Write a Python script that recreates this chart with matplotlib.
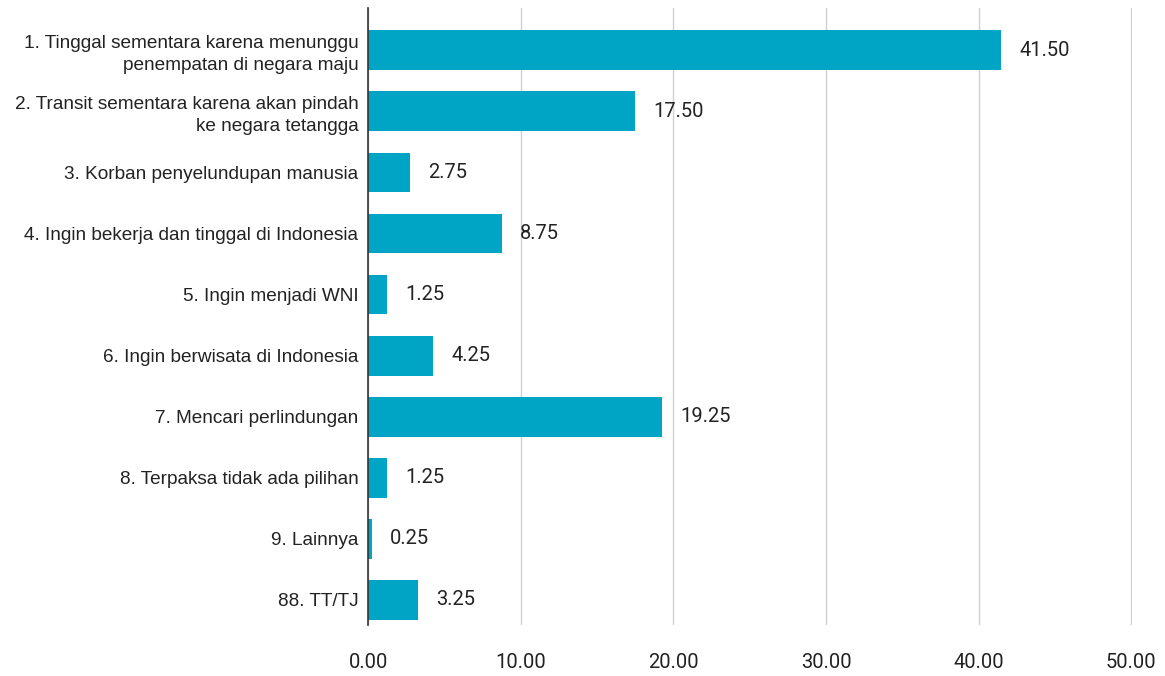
import matplotlib
matplotlib.use("Agg")
from matplotlib import pyplot as plt

categories = [
    "1. Tinggal sementara karena menunggu\npenempatan di negara maju",
    "2. Transit sementara karena akan pindah\nke negara tetangga",
    "3. Korban penyelundupan manusia",
    "4. Ingin bekerja dan tinggal di Indonesia",
    "5. Ingin menjadi WNI",
    "6. Ingin berwisata di Indonesia",
    "7. Mencari perlindungan",
    "8. Terpaksa tidak ada pilihan",
    "9. Lainnya",
    "88. TT/TJ",
]
values = [41.50, 17.50, 2.75, 8.75, 1.25, 4.25, 19.25, 1.25, 0.25, 3.25]
xticks = [0, 10, 20, 30, 40, 50]

bar_color = "#00A5C5"

fig = plt.figure(figsize=(11.65, 6.76), dpi=100)
ax = fig.add_axes([0.316, 0.0754, 0.656, 0.9126])

pos = list(range(len(categories)))
ax.barh(pos, values, height=0.65, color=bar_color, zorder=3)

# value labels to the right of each bar
for y, v in zip(pos, values):
    ax.text(v + 1.2, y, f"{v:.2f}", va="center", ha="left",
            fontsize=14.5, family="Roboto", color="#222222")

ax.set_xlim(0, 50.08)
ax.set_ylim(9.41, -0.69)
ax.set_yticks(pos)
ax.set_yticklabels(categories, fontsize=13.7, family="Liberation Sans",
                   color="#222222", linespacing=1.38)
ax.set_xticks(xticks)
ax.set_xticklabels([f"{t:.2f}" for t in xticks], fontsize=14.5,
                   family="Roboto", color="#222222")
ax.tick_params(axis="both", length=0)
ax.tick_params(axis="y", pad=7)
ax.tick_params(axis="x", pad=20)

ax.grid(axis="x", color="#d0d0d0", linewidth=1, zorder=0)
for s in ["top", "right", "bottom"]:
    ax.spines[s].set_visible(False)
ax.spines["left"].set_color("#333333")
ax.spines["left"].set_linewidth(1.2)
ax.spines["left"].set_zorder(4)

fig.savefig("out.png", dpi=100, facecolor="white")
